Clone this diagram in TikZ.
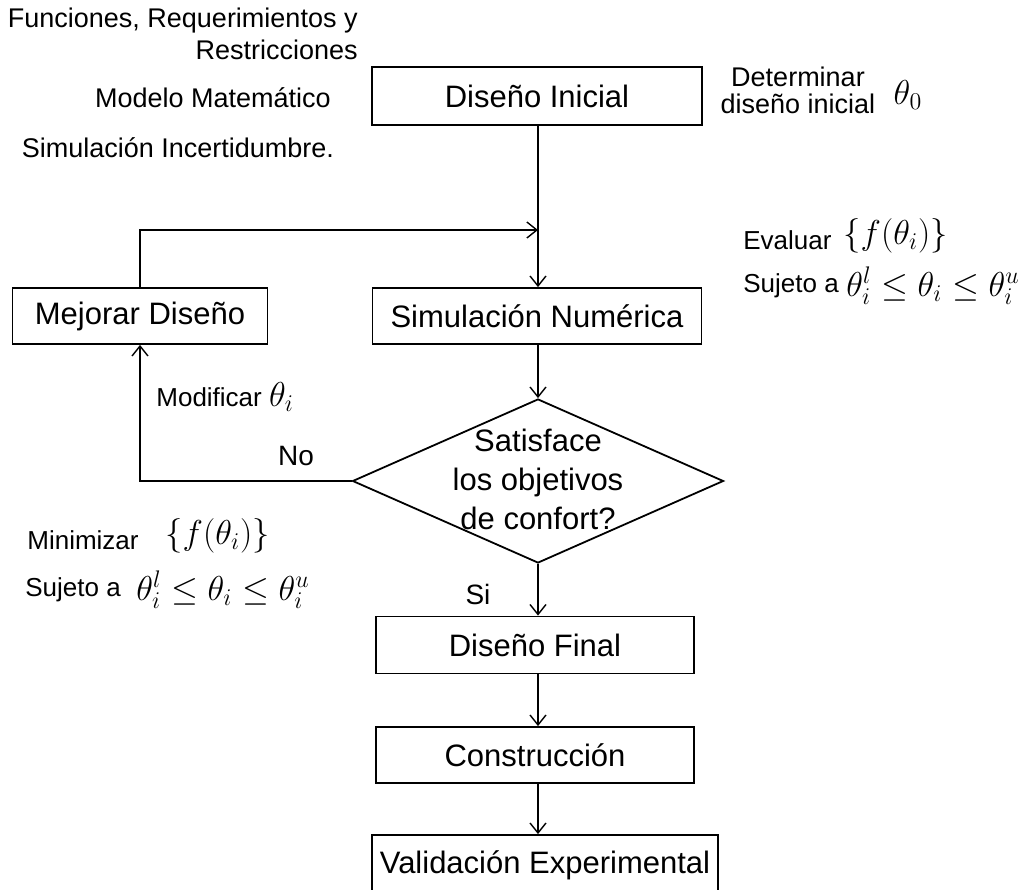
\documentclass[tikz,border=0pt]{standalone}
\usepackage{amsmath,amssymb}
\usepackage{fontspec}
\setmainfont{Liberation Sans}
\usepackage{tikz}
\usetikzlibrary{arrows.meta,positioning,shapes.geometric}

\tikzset{
  caja/.style={draw, line width=0.9pt, minimum width=165pt, minimum height=29pt,
               inner sep=2pt, font=\fontsize{15.5}{18}\selectfont},
  nota/.style={inner sep=0pt, font=\fontsize{13.5}{16}\selectfont},
  notita/.style={inner sep=0pt, font=\fontsize{13}{15}\selectfont},
  mate/.style={inner sep=0pt, font=\fontsize{17}{19}\selectfont},
  flecha/.style={line width=0.7pt, -{Straight Barb[length=5pt,width=8pt]}}
}

\begin{document}
\begin{tikzpicture}[x=0.5pt, y=-0.5pt]
    \useasboundingbox (0,0) rectangle (1035,890);

    % bloques del flujo
    \node[caja] (ini) at (537,96) {Diseño Inicial};
    \node[caja, minimum width=164.5pt, minimum height=28pt] (sim) at (537,316) {Simulación Numérica};
    \node[caja, minimum width=127.5pt, minimum height=28pt] (mej) at (140,316) {Mejorar Diseño};
    \node[diamond, draw, line width=0.9pt, inner sep=0pt, minimum width=185.5pt,
          minimum height=82pt] (dec) at (538,481) {};
    \node[align=center, font=\fontsize{15.5}{19.5}\selectfont] (dectxt) at (538,479)
          {Satisface\\los objetivos\\de confort?};
    \node[caja, minimum width=159pt, minimum height=28.5pt] (fin) at (535,645) {Diseño Final};
    \node[caja, minimum width=159pt, minimum height=28pt] (con) at (535,755) {Construcción};
    \node[caja, minimum width=173pt, minimum height=30pt] (val) at (545,865) {Validación Experimental};
    \coordinate (jn) at (538,230);

    % conexiones
    \draw[flecha] (ini.south -| jn) -- (sim.north -| jn);
    \draw[flecha] (mej.north) |- (jn);
    \draw[flecha] (sim.south -| dec.north) -- (dec.north);
    \draw[flecha] (dec.west) -| (mej.south);
    \draw[flecha] (dec.south) -- (fin.north -| dec.south);
    \draw[flecha] (fin.south -| dec.south) -- (con.north -| dec.south);
    \draw[flecha] (con.south -| dec.south) -- (val.north -| dec.south);

    % etiquetas
    \node[font=\fontsize{14}{16}\selectfont] (no) at (296,456) {No};
    \node[font=\fontsize{14}{16}\selectfont] (si) at (478,594) {Si};
    \node[notita, anchor=west] (modif) at (156,397) {Modificar \fontsize{17}{19}\selectfont$\theta_i$};

    % notas a la izquierda
    \node[nota, anchor=north east, align=right] (func) at (358,8)
          {Funciones, Requerimientos y\\Restricciones};
    \node[nota] (mod) at (213,98) {Modelo Matemático};
    \node[nota] (simi) at (178,148) {Simulación Incertidumbre.};
    \node[notita, anchor=west] (minz) at (27,540) {Minimizar};
    \node[mate, font=\fontsize{18}{20}\selectfont, anchor=west] (minf) at (165,536) {$\{f(\theta_i)\}$};
    \node[notita, anchor=west] (suj1) at (25,590) {Sujeto a};
    \node[mate, anchor=west] (suj1m) at (136,590) {$\theta_i^l \le \theta_i \le \theta_i^u$};

    % notas a la derecha
    \node[notita, align=center, font=\fontsize{13.5}{13.5}\selectfont] (det) at (798,90)
          {Determinar\\diseño inicial};
    \node[mate] (th0) at (908,95) {$\theta_0$};
    \node[notita, anchor=west] (eval) at (743,240) {Evaluar};
    \node[mate, font=\fontsize{18}{20}\selectfont, anchor=west] (evalf) at (843,236) {$\{f(\theta_i)\}$};
    \node[notita, anchor=west] (suj2) at (743,286) {Sujeto a};
    \node[mate, anchor=west] (suj2m) at (846,286) {$\theta_i^l \le \theta_i \le \theta_i^u$};
\end{tikzpicture}
\end{document}
